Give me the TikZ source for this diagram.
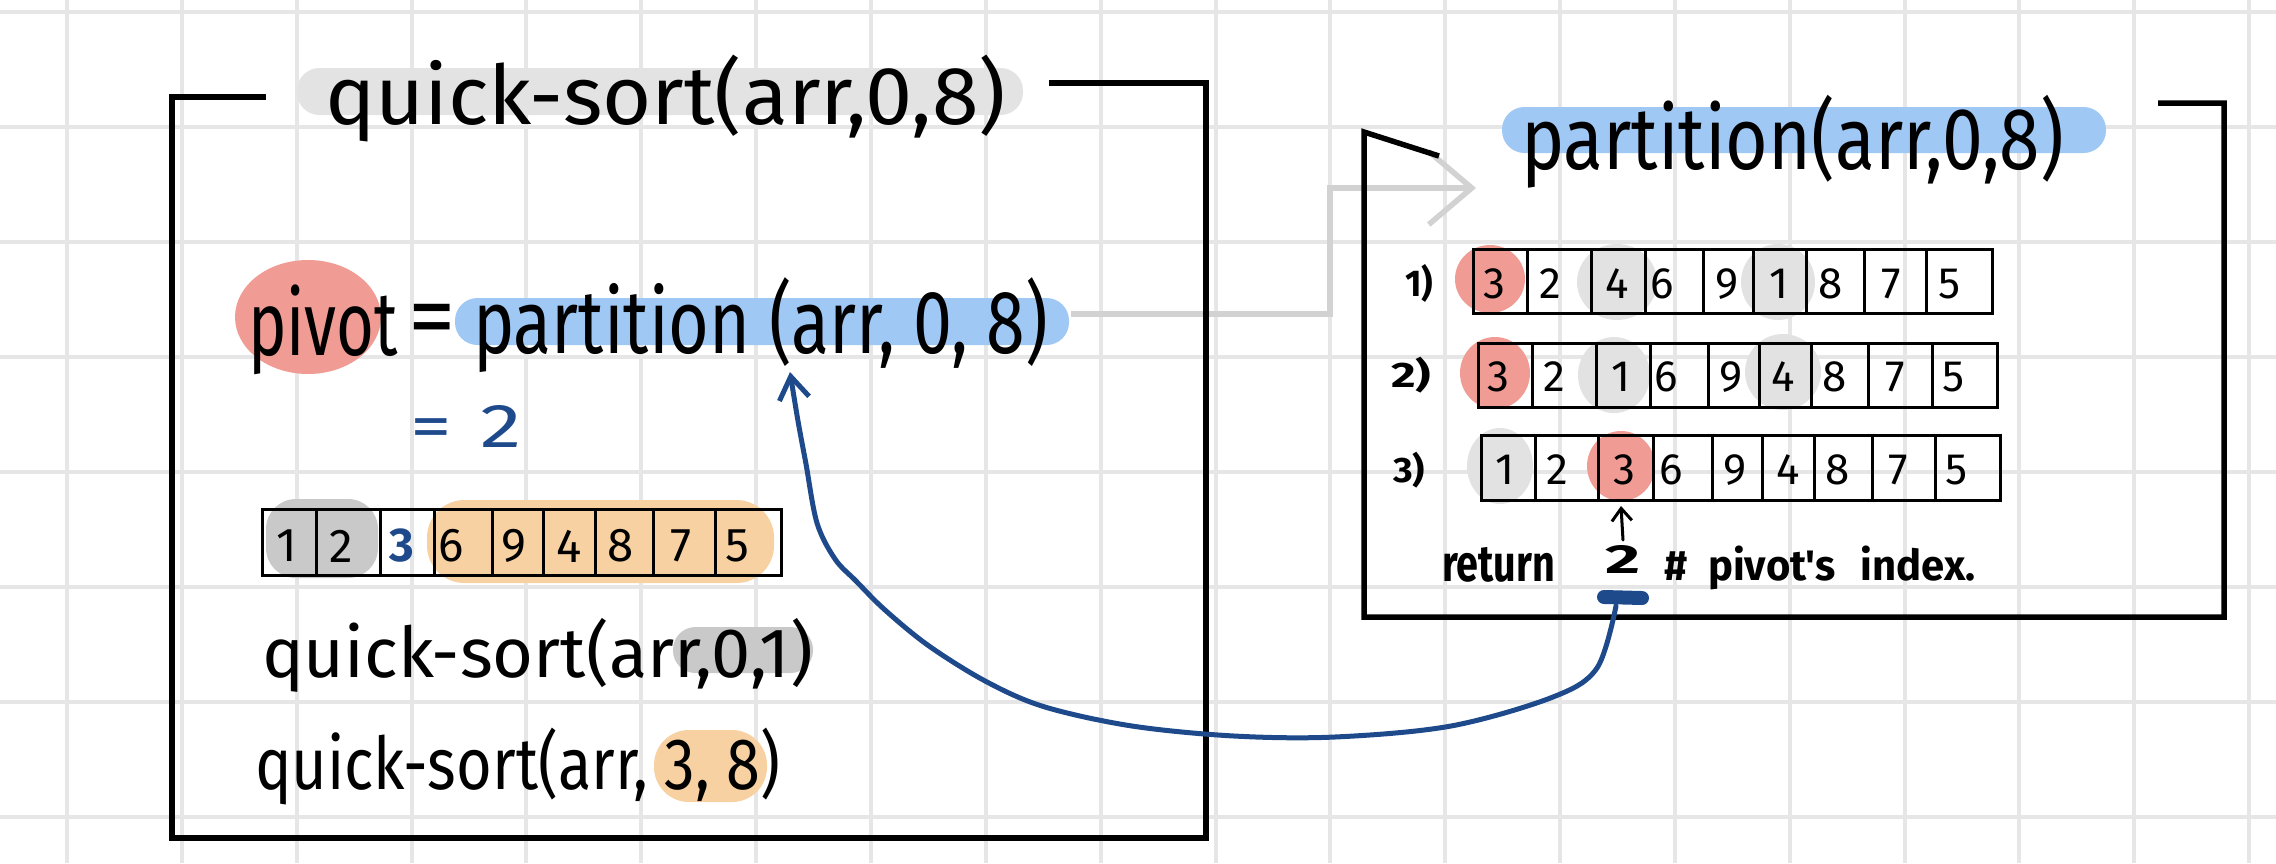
\documentclass[tikz,border=0pt]{standalone}
\usepackage{fontspec}
\usepackage{graphicx}
\usetikzlibrary{arrows.meta}
\newfontfamily\hand{Fira Sans}
\definecolor{gridc}{HTML}{E6E6E6}
\definecolor{hlgray}{HTML}{E3E3E3}
\definecolor{darkgray}{HTML}{C9C9C9}
\definecolor{lightblob}{HTML}{E2E2E2}
\definecolor{bluec}{HTML}{A0C8F5}
\definecolor{redc}{HTML}{F09B93}
\definecolor{orangec}{HTML}{F8D1A2}
\definecolor{inkblue}{HTML}{1E4A8C}
\definecolor{conngray}{HTML}{D2D2D2}
\begin{document}
\begin{tikzpicture}[x=0.02cm,y=-0.02cm,
  gridline/.style={gridc, line width=0.08cm},
  frame/.style={line width=0.11cm, line join=miter},
  cell/.style={line width=0.06cm},
  txt/.style={inner sep=0pt, outer sep=0pt, anchor=north west, font=\hand},
  lbl/.style={inner sep=0pt, outer sep=0pt, font=\hand},
  dig/.style={inner sep=0pt, font=\hand\fontsize{27}{27}\selectfont},
  rdig/.style={inner sep=0pt, font=\hand\fontsize{25}{25}\selectfont},
  ink/.style={inkblue, line width=0.1cm, line cap=round, line join=round},
]
\path[use as bounding box, fill=white] (0,0) rectangle (2276,863);

% grid
\foreach \k in {0,...,19} \draw[gridline] ({67+114.85*\k},0) -- ({67+114.85*\k},863);
\foreach \k in {0,...,7} \draw[gridline] (0,{12+115*\k}) -- (2276,{12+115*\k});

% ---------- highlights (left box)
\fill[hlgray, rounded corners=0.45cm] (297,68) rectangle (1023,115);
\fill[redc] (308,317) ellipse [x radius=1.46cm, y radius=1.14cm];
\fill[bluec, rounded corners=0.45cm] (455,298) rectangle (1069,345);
\fill[darkgray, rounded corners=0.6cm] (266,499) rectangle (378,578);
\fill[orangec, rounded corners=0.75cm] (427,500) rectangle (774,583);
\fill[darkgray, rounded corners=0.45cm] (673,627) rectangle (813,673);
\fill[orangec, rounded corners=0.7cm] (654,730) rectangle (767,802);

% ---------- highlights (right box)
\fill[bluec, rounded corners=0.45cm] (1502,107) rectangle (2106,153);
\fill[redc] (1490,279) ellipse [x radius=0.7cm, y radius=0.68cm];
\fill[lightblob] (1617,282) ellipse [x radius=0.8cm, y radius=0.76cm];
\fill[lightblob] (1778,282) ellipse [x radius=0.74cm, y radius=0.76cm];
\fill[redc] (1495,373) ellipse [x radius=0.7cm, y radius=0.72cm];
\fill[lightblob] (1614,375) ellipse [x radius=0.72cm, y radius=0.76cm];
\fill[lightblob] (1783,372) ellipse [x radius=0.76cm, y radius=0.76cm];
\fill[lightblob] (1500,466) ellipse [x radius=0.66cm, y radius=0.76cm];
\fill[redc] (1621,466) ellipse [x radius=0.68cm, y radius=0.7cm];

% ---------- gray connector to partition box
\coordinate (barend) at (1071,314);
\coordinate (chev) at (1476,188);
\draw[conngray, line width=0.11cm, -{Straight Barb[length=0.86cm, width=1.46cm]}]
  (barend) -- (1330,314) -- (1330,188) -- (chev);

% ---------- frames
\draw[frame] (266,97) -- (172,97) -- (172,838) -- (1206,838) -- (1206,83) -- (1049,83);
\draw[frame] (1439,156) -- (1364,132) -- (1364,617) -- (2224,617) -- (2224,103) -- (2158,103);

% ---------- left array
\draw[cell] (262,509) rectangle (781,575);
\foreach \x in {316,380,434,492,543,595,653,715} \draw[cell] (\x,509) -- (\x,575);
\node[dig] (L1) at (287,546) {1};
\node[dig] (L2) at (341,546) {2};
\node[dig, text=inkblue, font=\hand\bfseries\fontsize{27}{27}\selectfont] (L3) at (402,546) {3};
\node[dig] (L4) at (451,546) {6};
\node[dig] (L5) at (514,546) {9};
\node[dig] (L6) at (569,546) {4};
\node[dig] (L7) at (621,546) {8};
\node[dig] (L8) at (681,546) {7};
\node[dig] (L9) at (737,546) {5};

% ---------- right arrays
\draw[cell] (1473,249) rectangle (1992,313);
\foreach \x in {1527,1591,1645,1703,1753,1806,1864,1926} \draw[cell] (\x,249) -- (\x,313);
\foreach \x/\d [count=\i] in {1494/3,1550/2,1617/4,1662/6,1727/9,1779/1,1831/8,1891/7,1949/5}
  \node[rdig] (Ra\i) at (\x,284) {\d};

\draw[cell] (1478,343) rectangle (1997,407);
\foreach \x in {1532,1596,1650,1708,1759,1811,1868,1932} \draw[cell] (\x,343) -- (\x,407);
\foreach \x/\d [count=\i] in {1498/3,1554/2,1621/1,1666/6,1731/9,1783/4,1835/8,1895/7,1953/5}
  \node[rdig] (Rb\i) at (\x,377) {\d};

\draw[cell] (1481,435) rectangle (2000,500);
\foreach \x in {1535,1598,1653,1712,1762,1814,1872,1935} \draw[cell] (\x,435) -- (\x,500);
\foreach \x/\d [count=\i] in {1505/1,1557/2,1624/3,1671/6,1735/9,1788/4,1838/8,1898/7,1956/5}
  \node[rdig] (Rc\i) at (\x,470) {\d};

\node[lbl] (lab1) at (1419,283) {\resizebox*{0.56cm}{0.76cm}{\bfseries 1)}};
\node[lbl] (lab2) at (1411,375) {\resizebox*{0.8cm}{0.72cm}{\bfseries 2)}};
\node[lbl] (lab3) at (1409,470) {\resizebox*{0.64cm}{0.72cm}{\bfseries 3)}};

% ---------- texts
\node[txt] (qs) at (325,55) {\resizebox*{13.62cm}{1.74cm}{quick-sort(arr,0,8)}};
\node[txt] (pivot) at (248,285) {\resizebox*{3.0cm}{1.8cm}{pivot}};
\node[inner sep=0pt, font=\hand\fontsize{54}{54}\selectfont] (eq) at (432,326) {=};
\node[txt] (partcall) at (473,278) {\resizebox*{11.5cm}{1.9cm}{partition (arr, 0, 8)}};
\node[txt, text=inkblue] (eqtwo) at (410,405) {\resizebox*{2.24cm}{0.84cm}{=\hspace{0.35em}2}};
\node[txt] (qsa) at (262,618) {\resizebox*{11.02cm}{1.48cm}{quick-sort(arr,0,1)}};
\node[txt] (qsb) at (255,728) {\resizebox*{10.5cm}{1.54cm}{quick-sort(arr, 3, 8)}};
\node[txt] (ptitle) at (1521,95) {\resizebox*{10.86cm}{1.86cm}{partition(arr,0,8)}};
\node[txt] (ret) at (1442,547) {\resizebox*{2.26cm}{0.7cm}{\bfseries return}};
\node[txt] (ret2) at (1605,545) {\resizebox*{0.7cm}{0.56cm}{\bfseries 2}};
\node[txt] (cmt) at (1664,546) {\resizebox*{6.24cm}{0.88cm}{\bfseries\#\hspace{0.5em}pivot's\hspace{0.6em}index.}};

% small arrow up to pivot cell
\coordinate (upfrom) at (1623,540);
\coordinate (upto) at (1621,506);
\draw[line width=0.06cm, line cap=round, -{Straight Barb[length=0.25cm, width=0.4cm]}] (upfrom) -- (upto);

% ---------- blue return curve
\coordinate (curvestart) at (1616,606);
\coordinate (calltip) at (790,372);
\draw[inkblue, line width=0.28cm, line cap=round] (1604,597) -- (1642,598);
\draw[ink, -{Straight Barb[length=0.45cm, width=0.6cm]}]
  plot[smooth, tension=0.55] coordinates {(curvestart) (1597,668) (1553,697) (1451,726) (1335,737)
   (1234,736) (1132,726) (1045,707) (987,682) (929,646) (885,610) (856,581) (835,559)
   (817,523) (806,464) (798,421) (calltip)};
\end{tikzpicture}
\end{document}
